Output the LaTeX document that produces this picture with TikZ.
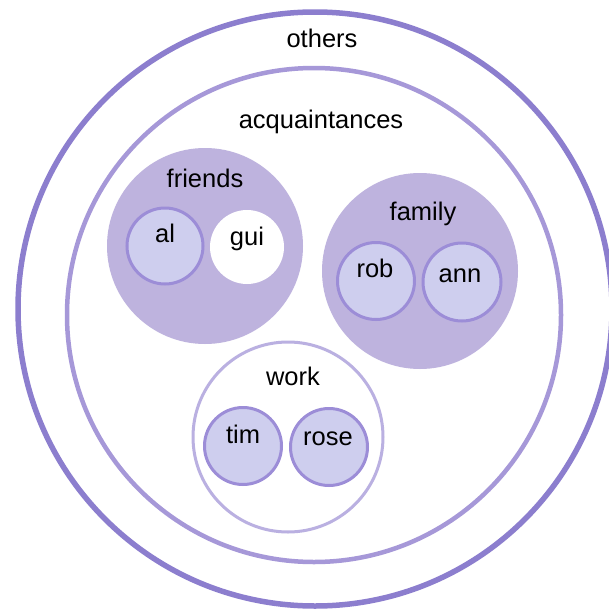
\documentclass[tikz,border=0pt]{standalone}
\usepackage{fontspec}
\setmainfont{Liberation Sans}
\definecolor{outerc}{RGB}{140,126,206}
\definecolor{acqc}{RGB}{166,152,216}
\definecolor{groupfill}{RGB}{190,179,222}
\definecolor{workc}{RGB}{186,176,225}
\definecolor{personfill}{RGB}{206,206,238}
\definecolor{personline}{RGB}{156,141,215}
\begin{document}
\begin{tikzpicture}[x=1pt,y=-1pt,
  ring/.style={circle,draw,fill=white,inner sep=0pt,minimum size=#1},
  group/.style={circle,fill=groupfill,inner sep=0pt,minimum size=#1},
  person/.style={circle,draw=personline,line width=3pt,fill=personfill,inner sep=0pt,minimum size=#1},
  lbl/.style={anchor=base,inner sep=0pt,font=\fontsize{25.5}{30}\selectfont,text=black}]
\useasboundingbox (0,0) rectangle (609,613);
\fill[white] (0,0) rectangle (609,613);
\node[ring=594pt,draw=outerc,line width=5.5pt] (others) at (315,309) {};
\node[ring=494pt,draw=acqc,line width=4.5pt] (acq) at (314,315) {};
\node[group=196pt] (friends) at (205,246) {};
\node[group=196pt] (family) at (420,271) {};
\node[ring=190pt,draw=workc,line width=3pt] (work) at (288,437) {};
\node[person=76pt] (al) at (165,246) {};
\node[circle,fill=white,inner sep=0pt,minimum size=74pt] (gui) at (247,247) {};
\node[person=77pt] (rob) at (376,281) {};
\node[person=78pt] (ann) at (462,282) {};
\node[person=77pt] (tim) at (243,446) {};
\node[person=77pt] (rose) at (329,447) {};
\node[lbl] (tothers) at (322,47) {others};
\node[lbl] (tacq) at (321,128) {acquaintances};
\node[lbl] (tfriends) at (205,187) {friends};
\node[lbl] (tal) at (165,242) {al};
\node[lbl] (tgui) at (247,245) {gui};
\node[lbl] (tfamily) at (423,220) {family};
\node[lbl] (trob) at (375,277) {rob};
\node[lbl] (tann) at (460,282) {ann};
\node[lbl] (twork) at (293,385) {work};
\node[lbl] (ttim) at (243,443) {tim};
\node[lbl] (trose) at (328,445) {rose};
\end{tikzpicture}
\end{document}
